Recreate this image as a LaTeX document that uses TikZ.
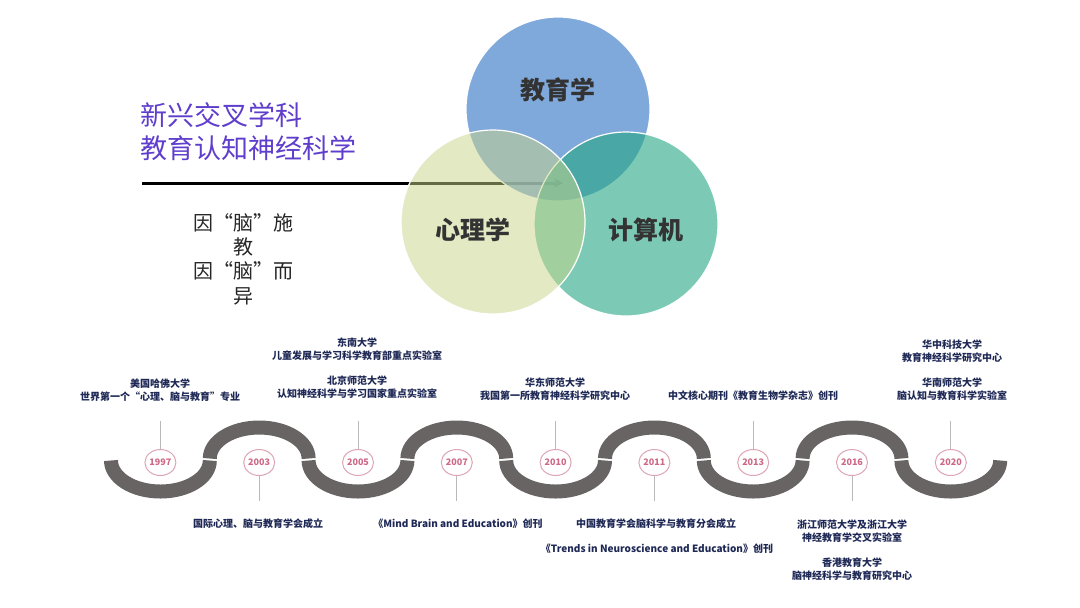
\documentclass[tikz,border=0pt]{standalone}
\usepackage{fontspec}
\setmainfont{Noto Sans CJK SC}
\usetikzlibrary{arrows.meta, positioning, shapes.geometric}

\definecolor{titlepurple}{RGB}{95,62,205}
\definecolor{labelnavy}{RGB}{30,40,85}
\definecolor{yearpink}{RGB}{205,105,135}
\definecolor{ringpink}{RGB}{222,165,180}
\definecolor{roadgrey}{RGB}{104,100,100}
\definecolor{stemgrey}{RGB}{185,185,185}
\definecolor{vennblue}{RGB}{95,148,211}
\definecolor{vennteal}{RGB}{37,168,132}
\definecolor{vennyellow}{RGB}{201,213,137}

\begin{document}
\begin{tikzpicture}[
    x=0.5pt, y=-0.5pt,
    venn/.style={circle, draw=white, line width=0.6pt,
                 minimum size=92pt, inner sep=0pt},
    subject/.style={font=\fontsize{12.5}{14}\selectfont\bfseries, text=black!80},
    road/.style={draw=roadgrey, line width=7pt},
    year/.style={ellipse, draw=ringpink, line width=0.5pt, fill=white,
                 minimum width=15pt, minimum height=13pt, inner sep=0pt,
                 font=\fontsize{4.5}{5}\selectfont\bfseries, text=yearpink},
    event/.style={align=center, font=\fontsize{5}{6.7}\selectfont\bfseries,
                  text=labelnavy},
    stem/.style={draw=stemgrey, line width=0.4pt},
]
  \useasboundingbox (0,0) rectangle (1080,607);
  \fill[white] (0,0) rectangle (1080,607);

  % heading and motto
  \node[anchor=west, align=left, inner sep=0pt, text=titlepurple,
        font=\fontsize{13.5}{16.5}\selectfont] (title) at (140,132)
        {新兴交叉学科\\教育认知神经科学};
  \node[align=center, inner sep=0pt, text=black!85,
        font=\fontsize{10}{12.2}\selectfont] (motto) at (243,259)
        {因“脑”施\\教\\因“脑”而\\异};

  \coordinate (lstart) at (142,183);
  \coordinate (ltip) at (563,183);
  \draw[line width=1.5pt, -{Stealth[length=4.5pt, width=4.5pt]}] (lstart) -- (ltip);

  % venn circles
  \node[venn, fill=vennblue, fill opacity=0.8]   (edu) at (558,109) {};
  \node[venn, fill=vennteal, fill opacity=0.6]   (cs)  at (626,224) {};
  \node[venn, fill=vennyellow, fill opacity=0.5] (psy) at (493,222) {};
  \node[subject] (edutext) at (558,90)  {教育学};
  \node[subject] (psytext) at (473,230) {心理学};
  \node[subject] (cstext)  at (646,230) {计算机};

  % winding road
  \foreach \cx in {160.4, 358, 555.6, 753.2, 950.8}
    \draw[road] ({\cx-49.4},460.5) arc[start angle=180, end angle=0,
                                       x radius=49.4, y radius=31];
  \foreach \cx in {259.2, 456.8, 654.4, 852}
    \draw[road] ({\cx-49.4},458.5) arc[start angle=180, end angle=360,
                                       x radius=49.4, y radius=31];

  % years
  \node[year] (y1997) at (160.4,462.5) {1997};
  \node[year] (y2003) at (259.2,462.5) {2003};
  \node[year] (y2005) at (358,462.5)   {2005};
  \node[year] (y2007) at (456.8,462.5) {2007};
  \node[year] (y2010) at (555.6,462.5) {2010};
  \node[year] (y2011) at (654.4,462.5) {2011};
  \node[year] (y2013) at (753.2,462.5) {2013};
  \node[year] (y2016) at (852,462.5)   {2016};
  \node[year] (y2020) at (950.8,462.5) {2020};

  % events above
  \node[event] (e1997)  at (160,390) {美国哈佛大学\\世界第一个“心理、脑与教育”专业};
  \node[event] (e2005a) at (357,349) {东南大学\\儿童发展与学习科学教育部重点实验室};
  \node[event] (e2005b) at (357,387) {北京师范大学\\认知神经科学与学习国家重点实验室};
  \node[event] (e2010)  at (555,389) {华东师范大学\\我国第一所教育神经科学研究中心};
  \node[event] (e2013)  at (753,396) {中文核心期刊《教育生物学杂志》创刊};
  \node[event] (e2020a) at (952,351) {华中科技大学\\教育神经科学研究中心};
  \node[event] (e2020b) at (952,389) {华南师范大学\\脑认知与教育科学实验室};

  % events below
  \node[event] (e2003)  at (258,524) {国际心理、脑与教育学会成立};
  \node[event] (e2007)  at (458,524) {《Mind Brain and Education》创刊};
  \node[event] (e2011a) at (656,524) {中国教育学会脑科学与教育分会成立};
  \node[event] (e2011b) at (657,549) {《Trends in Neuroscience and Education》创刊};
  \node[event] (e2016a) at (852,531) {浙江师范大学及浙江大学\\神经教育学交叉实验室};
  \node[event] (e2016b) at (852,569) {香港教育大学\\脑神经科学与教育研究中心};

  % stems
  \coordinate (s1997) at (160.4,421);
  \coordinate (s2005) at (358,421);
  \coordinate (s2010) at (555.6,421);
  \coordinate (s2013) at (753.2,421);
  \coordinate (s2020) at (950.8,421);
  \coordinate (s2003) at (259.2,501);
  \coordinate (s2007) at (456.8,501);
  \coordinate (s2011) at (654.4,501);
  \coordinate (s2016) at (852,501);
  \draw[stem] (y1997) -- (s1997);
  \draw[stem] (y2005) -- (s2005);
  \draw[stem] (y2010) -- (s2010);
  \draw[stem] (y2013) -- (s2013);
  \draw[stem] (y2020) -- (s2020);
  \draw[stem] (y2003) -- (s2003);
  \draw[stem] (y2007) -- (s2007);
  \draw[stem] (y2011) -- (s2011);
  \draw[stem] (y2016) -- (s2016);
\end{tikzpicture}
\end{document}
